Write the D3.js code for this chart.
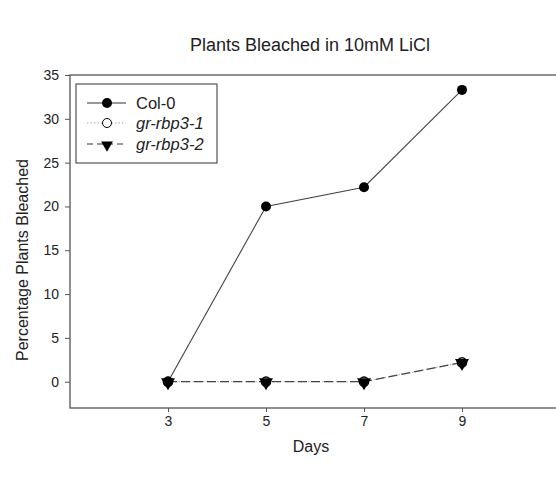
<!DOCTYPE html>
<html>
<head>
<meta charset="utf-8">
<script src="https://cdn.jsdelivr.net/npm/d3@7.9.0/dist/d3.min.js"></script>
<style>
  body { margin: 0; background: #fff; }
  svg { font-family: "Liberation Sans", Arial, sans-serif; }
</style>
</head>
<body>
<svg id="chart" width="556" height="489"></svg>
<script>
// data
const days = [3, 5, 7, 9];
const col0 = [0, 20, 22.2, 33.3];
const grRbp31 = [0, 0, 0, 2.2];
const grRbp32 = [0, 0, 0, 2.2];
const yTicks = [0, 5, 10, 15, 20, 25, 30, 35];
const seriesNames = ['Col-0', 'gr-rbp3-1', 'gr-rbp3-2'];

const svg = d3.select('#chart');
const margin = { left: 70, top: 75, right: 560, bottom: 408 };

const x = d3.scaleLinear().domain([1, 11]).range([margin.left, margin.right]);
const y = d3.scaleLinear().domain([-3, 35]).range([margin.bottom, margin.top]);

// frame
svg.append('rect')
  .attr('x', margin.left).attr('y', margin.top)
  .attr('width', margin.right - margin.left)
  .attr('height', margin.bottom - margin.top)
  .attr('fill', 'none').attr('stroke', '#555').attr('stroke-width', 1.3);

// axes
const xAxis = svg.append('g')
  .attr('transform', `translate(0,${margin.bottom})`)
  .call(d3.axisBottom(x).tickValues(days).tickSize(4).tickPadding(4));
const yAxis = svg.append('g')
  .attr('transform', `translate(${margin.left},0)`)
  .call(d3.axisLeft(y).tickValues(yTicks).tickSize(5).tickPadding(6));
[xAxis, yAxis].forEach(g => {
  g.select('.domain').remove();
  g.selectAll('line').attr('stroke', '#555');
  g.selectAll('text').attr('font-size', 14).attr('fill', '#222')
    .attr('font-family', '"Liberation Sans", Arial, sans-serif');
});

// titles
svg.append('text').attr('x', 310).attr('y', 51).attr('text-anchor', 'middle')
  .attr('font-size', 18).attr('fill', '#222').text('Plants Bleached in 10mM LiCl');
svg.append('text').attr('x', 311).attr('y', 452).attr('text-anchor', 'middle')
  .attr('font-size', 16).attr('fill', '#222').text('Days');
svg.append('text')
  .attr('transform', `translate(28,260) rotate(-90)`)
  .attr('text-anchor', 'middle').attr('font-size', 16).attr('fill', '#222')
  .text('Percentage Plants Bleached');

const line = d3.line().x((d, i) => x(days[i])).y(d => y(d));
const tri = d3.symbol().type(d3.symbolTriangle).size(85);
const triSmall = d3.symbol().type(d3.symbolTriangle).size(60);

// gr-rbp3-1 dotted
svg.append('path').datum(grRbp31).attr('d', line)
  .attr('fill', 'none').attr('stroke', '#aaa').attr('stroke-width', 1).attr('stroke-dasharray', '1.5,2');
// gr-rbp3-2 dashed
svg.append('path').datum(grRbp32).attr('d', line)
  .attr('fill', 'none').attr('stroke', '#444').attr('stroke-width', 1.2).attr('stroke-dasharray', '9,4');
// Col-0 solid
svg.append('path').datum(col0).attr('d', line)
  .attr('fill', 'none').attr('stroke', '#444').attr('stroke-width', 1.1);

svg.selectAll('.c0').data(col0).enter().append('circle')
  .attr('cx', (d, i) => x(days[i])).attr('cy', d => y(d)).attr('r', 5).attr('fill', '#000');
svg.selectAll('.g1').data(grRbp31).enter().append('circle')
  .attr('cx', (d, i) => x(days[i])).attr('cy', d => y(d)).attr('r', 4.6)
  .attr('fill', 'none').attr('stroke', '#000').attr('stroke-width', 1.5);
svg.selectAll('.g2').data(grRbp32).enter().append('path')
  .attr('d', tri)
  .attr('transform', (d, i) => `translate(${x(days[i])},${y(d) + 0.5}) rotate(180)`)
  .attr('fill', '#000');

// legend
const lg = svg.append('g');
lg.append('rect').attr('x', 76).attr('y', 84).attr('width', 141).attr('height', 79)
  .attr('fill', '#fff').attr('stroke', '#444').attr('stroke-width', 1.1);
const rows = [103, 123, 144];
const styles = [
  { stroke: '#333', dash: null },
  { stroke: '#aaa', dash: '1.5,2' },
  { stroke: '#333', dash: '6,4' }
];
seriesNames.forEach((name, i) => {
  lg.append('line').attr('x1', 87).attr('x2', 126).attr('y1', rows[i]).attr('y2', rows[i])
    .attr('stroke', styles[i].stroke).attr('stroke-width', 1.1)
    .attr('stroke-dasharray', styles[i].dash);
  if (i === 0) {
    lg.append('circle').attr('cx', 107).attr('cy', rows[i]).attr('r', 5).attr('fill', '#000');
  } else if (i === 1) {
    lg.append('circle').attr('cx', 107).attr('cy', rows[i]).attr('r', 4.5)
      .attr('fill', '#fff').attr('stroke', '#000');
  } else {
    lg.append('path').attr('d', triSmall).attr('transform', `translate(107,${rows[i] + 1}) rotate(180)`)
      .attr('fill', '#000');
  }
  lg.append('text').attr('x', 136).attr('y', rows[i] + 6).attr('font-size', 16.5).attr('fill', '#222')
    .attr('font-style', i > 0 ? 'italic' : null).text(name);
});
</script>
</body>
</html>
